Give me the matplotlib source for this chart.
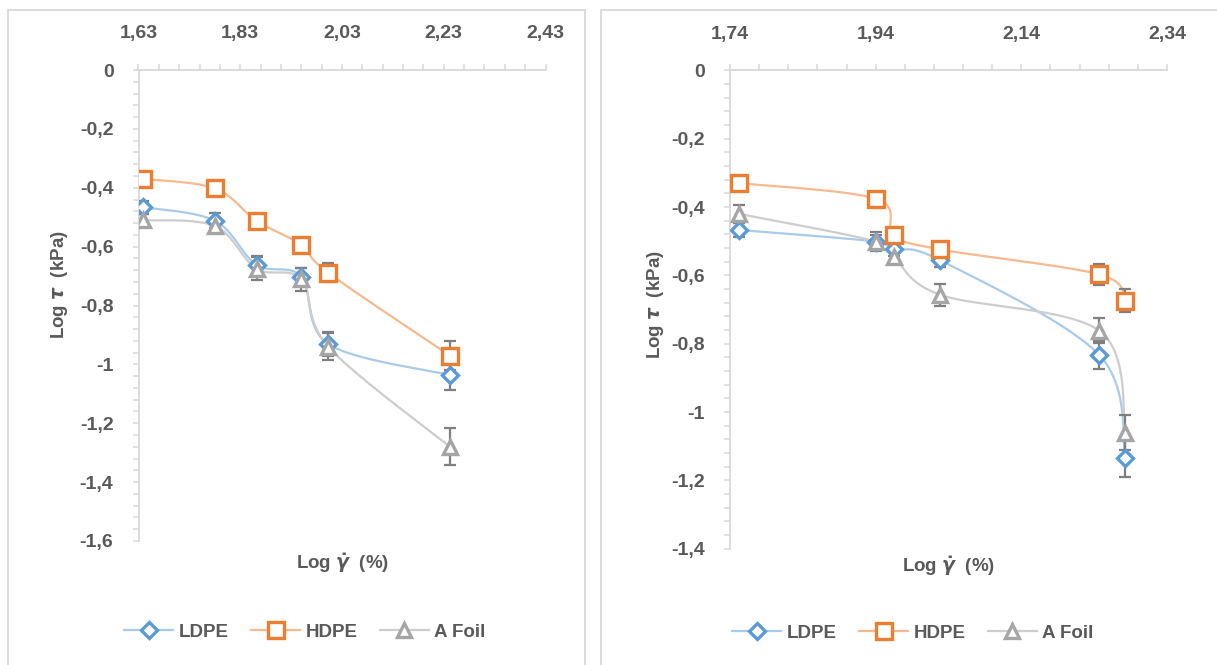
# Shear stress vs shear rate, two panels, Excel-like smoothed lines
import numpy as np
import matplotlib
matplotlib.use('Agg')
import matplotlib.pyplot as plt
from matplotlib.ticker import MultipleLocator, FuncFormatter

plt.rcParams['font.family'] = ['Liberation Sans', 'DejaVu Sans']
plt.rcParams['font.weight'] = 'bold'
plt.rcParams['mathtext.fontset'] = 'dejavusans'

# ---- data, left panel
x_left = [1.639, 1.780, 1.862, 1.950, 2.003, 2.242]
ldpe_left = [-0.466, -0.512, -0.662, -0.702, -0.931, -1.036]
hdpe_left = [-0.370, -0.402, -0.512, -0.594, -0.689, -0.970]
foil_left = [-0.510, -0.530, -0.675, -0.711, -0.940, -1.280]
ldpe_left_err = [0.022, 0.025, 0.030, 0.030, 0.040, 0.050]
hdpe_left_err = [0.010, 0.010, 0.010, 0.010, 0.032, 0.048]
foil_left_err = [0.020, 0.020, 0.040, 0.040, 0.046, 0.063]

# ---- data, right panel
x_right = [1.753, 1.941, 1.965, 2.029, 2.247, 2.283]
ldpe_right = [-0.467, -0.501, -0.523, -0.556, -0.833, -1.135]
hdpe_right = [-0.330, -0.376, -0.482, -0.524, -0.597, -0.674]
foil_right = [-0.420, -0.501, -0.547, -0.657, -0.762, -1.060]
ldpe_right_err = [0.020, 0.020, 0.020, 0.020, 0.040, 0.055]
hdpe_right_err = [0.010, 0.010, 0.010, 0.010, 0.030, 0.034]
foil_right_err = [0.026, 0.027, 0.020, 0.033, 0.037, 0.052]

names = ['LDPE', 'HDPE', 'A Foil']
mark_cols = ['#5B9BD5', '#ED7D31', '#A5A5A5']
line_cols = ['#A9CBEA', '#F6B990', '#CDCDCD']
markers = ['D', 's', '^']
msizes = [8.5, 11, 10]
err_col = '#7F7F7F'
txt_col = '#595959'
axis_col = '#D9D9D9'

W, H = 1217, 665
fig = plt.figure(figsize=(W/100, H/100), dpi=100)

# panel borders
for x0, x1 in [(8, 585), (601, 1230)]:
    fig.add_artist(plt.Rectangle((x0/W, -0.1), (x1-x0)/W, (H-10)/H + 0.1,
                                 transform=fig.transFigure, fill=False,
                                 edgecolor=axis_col, lw=1.3))


def comma(v, pos, nd):
    s = '%.*f' % (nd, v)
    if '.' in s:
        s = s.rstrip('0').rstrip('.')
    if s == '-0':
        s = '0'
    return s.replace('.', ',')


def smooth(ax, xs, ys):
    # Excel style bezier smoothing done in screen space
    P = ax.transData.transform(np.column_stack([xs, ys]))
    n = len(P)
    pts = []
    t = np.linspace(0, 1, 40)[:, None]
    for i in range(n-1):
        p0 = P[max(i-1, 0)]
        p1 = P[i]
        p2 = P[i+1]
        p3 = P[min(i+2, n-1)]
        c1 = p1 + (p2 - p0)/6.0
        c2 = p2 - (p3 - p1)/6.0
        seg = ((1-t)**3)*p1 + 3*((1-t)**2)*t*c1 + 3*(1-t)*t**2*c2 + t**3*p2
        pts.append(seg)
    pts = np.vstack(pts)
    d = ax.transData.inverted().transform(pts)
    return d[:, 0], d[:, 1]


def panel(rect, xlim, ylim, xmajor, xs, series, errs, leg_xy, ylab_xy, xlab_xy):
    ax = fig.add_axes(rect)
    ax.set_xlim(*xlim)
    ax.set_ylim(*ylim)
    for s in ['bottom', 'right']:
        ax.spines[s].set_visible(False)
    for s in ['top', 'left']:
        ax.spines[s].set_color(axis_col)
        ax.spines[s].set_linewidth(1.3)
    ax.xaxis.tick_top()
    ax.set_xticks(xmajor)
    ax.yaxis.set_major_locator(MultipleLocator(0.2))
    ax.yaxis.set_minor_locator(MultipleLocator(0.04))
    ax.xaxis.set_major_formatter(FuncFormatter(lambda v, p: comma(v, p, 2)))
    ax.yaxis.set_major_formatter(FuncFormatter(lambda v, p: comma(v, p, 1)))
    ax.tick_params(which='both', direction='out', color=axis_col, width=1.1,
                   length=4)
    ax.tick_params(axis='x', which='major', pad=16, labelsize=14,
                   labelcolor=txt_col)
    ax.tick_params(axis='y', which='major', pad=14, labelsize=14,
                   labelcolor=txt_col)
    ax.set_xticks(np.arange(xlim[0], xlim[1] + 0.001, 0.04), minor=True)

    handles = []
    for k, (ys, er) in enumerate(zip(series, errs)):
        sx, sy = smooth(ax, xs, ys)
        ax.plot(sx, sy, color=line_cols[k], lw=1.6, zorder=2)
        ax.errorbar(xs, ys, yerr=er, fmt='none', ecolor=err_col,
                    elinewidth=1.6, capsize=4.3, capthick=1.6, zorder=3)
        ax.plot(xs, ys, ls='none', marker=markers[k], ms=msizes[k],
                mfc='white', mec=mark_cols[k], mew=2.4, zorder=4 + k)
        h, = ax.plot([], [], color=line_cols[k], lw=1.6, marker=markers[k],
                     ms=msizes[k], mfc='white', mec=mark_cols[k], mew=2.4)
        handles.append(h)
    ax.set_xlim(*xlim)
    ax.set_ylim(*ylim)

    fig.legend(handles, names, loc='center',
               bbox_to_anchor=(leg_xy[0]/W, 1 - leg_xy[1]/H), ncol=3,
               frameon=False, handlelength=2.6, handletextpad=0.3,
               columnspacing=1.2,
               prop={'size': 13.5, 'weight': 'bold'}, labelcolor=txt_col)
    fig.text(ylab_xy[0]/W, 1 - ylab_xy[1]/H, r'Log $\boldsymbol{\tau}$  (kPa)',
             rotation=90, ha='center', va='center', fontsize=13.5,
             fontweight='bold', color=txt_col)
    fig.text(xlab_xy[0]/W, 1 - xlab_xy[1]/H, r'Log $\dot{\gamma}$  (%)',
             ha='center', va='center', fontsize=13.5, fontweight='bold',
             color=txt_col)
    return ax


panel([138.5/W, 1 - 541/H, 407/W, 471/H], (1.63, 2.43), (-1.6, 0),
      [1.63, 1.83, 2.03, 2.23, 2.43], x_left,
      [ldpe_left, hdpe_left, foil_left],
      [ldpe_left_err, hdpe_left_err, foil_left_err],
      (305, 632), (60, 285), (342, 563))

panel([730/W, 1 - 548.8/H, 437/W, 478.4/H], (1.74, 2.34), (-1.4, 0),
      [1.74, 1.94, 2.14, 2.34], x_right,
      [ldpe_right, hdpe_right, foil_right],
      [ldpe_right_err, hdpe_right_err, foil_right_err],
      (913, 633), (655, 305), (948, 566))

fig.savefig('out.png', dpi=100)
